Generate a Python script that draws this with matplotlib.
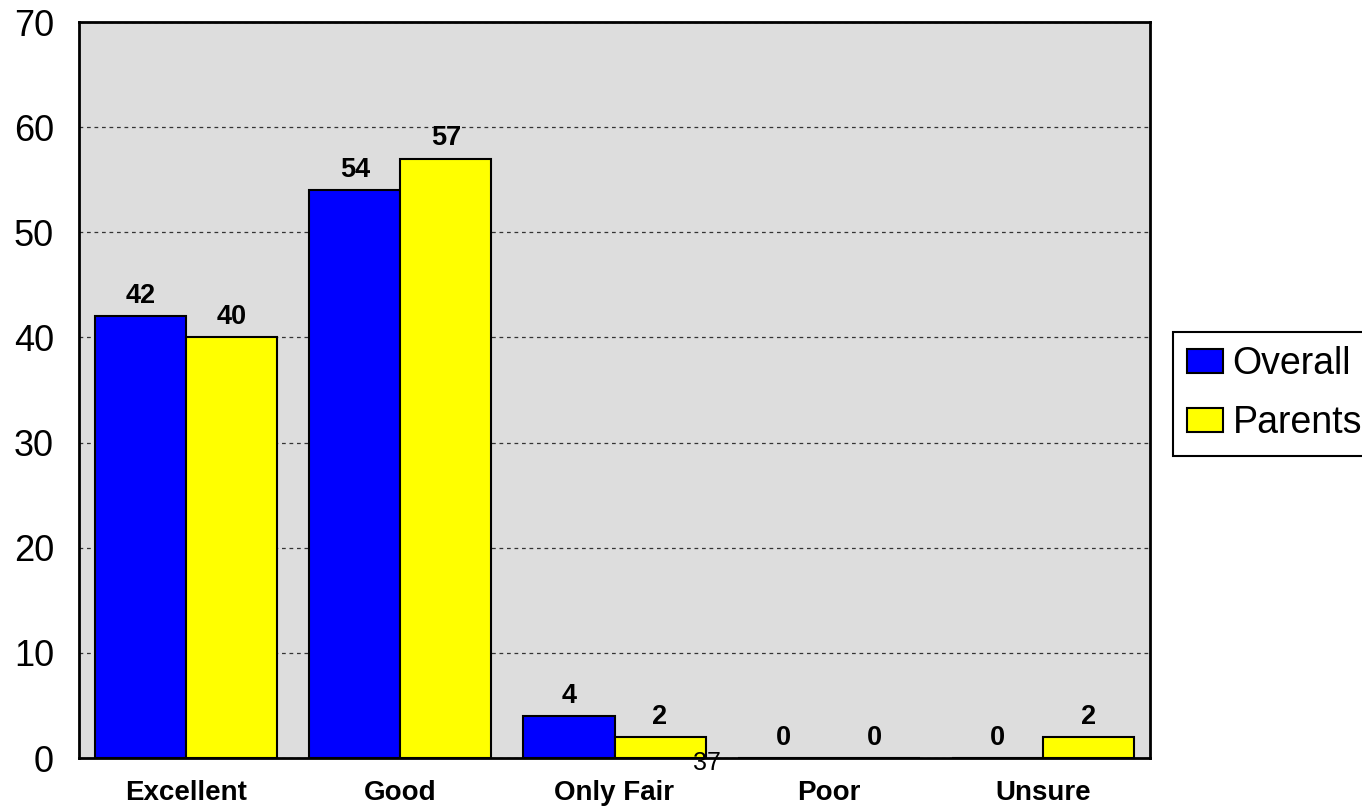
import matplotlib
matplotlib.use("Agg")
import matplotlib.pyplot as plt
import numpy as np

categories = ["Excellent", "Good", "Only Fair", "Poor", "Unsure"]
overall = [42, 54, 4, 0, 0]
parents = [40, 57, 2, 0, 2]
series_names = ["Overall", "Parents"]
yticks = [0, 10, 20, 30, 40, 50, 60, 70]

plt.rcParams['font.family'] = ['Liberation Sans', 'DejaVu Sans']

fig = plt.figure(figsize=(13.62, 8.09), dpi=100)
ax = fig.add_axes([79/1362, 1-758/809, (1150-79)/1362, (758-22)/809])
ax.set_facecolor('#DDDDDD')

x = np.arange(len(categories))
w = 0.425
b1 = ax.bar(x - w/2, overall, w, color='#0000FF', edgecolor='black', linewidth=1.5, label=series_names[0], zorder=3)
b2 = ax.bar(x + w/2, parents, w, color='#FFFF00', edgecolor='black', linewidth=1.5, label=series_names[1], zorder=3)

for bars, vals in ((b1, overall), (b2, parents)):
    for rect, v in zip(bars, vals):
        ax.annotate(f"{v}", (rect.get_x() + rect.get_width()/2, v),
                    xytext=(0, 9.5), textcoords='offset points',
                    ha='center', va='baseline', fontsize=19.5, fontweight='bold', zorder=4)

ax.set_xlim(-0.5, len(categories) - 0.5)
ax.set_ylim(0, 70)
ax.set_yticks(yticks)
ax.set_yticklabels([str(t) for t in yticks], fontsize=26)
ax.set_xticks(x)
ax.set_xticklabels(categories, fontsize=20, fontweight='bold')
ax.tick_params(axis='y', length=0, pad=18)
ax.tick_params(axis='x', length=0, pad=16)
ax.yaxis.grid(True, linestyle=(0, (3, 3)), color='#333333', linewidth=0.9, zorder=1)
ax.set_axisbelow(True)
for s in ax.spines.values():
    s.set_linewidth(2)
    s.set_color('black')

leg = fig.legend(handles=[b1, b2], labels=series_names, loc='upper left',
                 bbox_to_anchor=(1173/1362, 1-332/809), borderaxespad=0,
                 fontsize=27, frameon=True, fancybox=False, framealpha=1,
                 edgecolor='black', handlelength=0.96, handleheight=0.62,
                 handletextpad=0.25, borderpad=0.38, labelspacing=0.62)
leg.get_frame().set_linewidth(1.5)

fig.text(707/1362, 1-763/809, "37", ha='center', va='center', fontsize=18)

fig.savefig("out.png", dpi=100)
